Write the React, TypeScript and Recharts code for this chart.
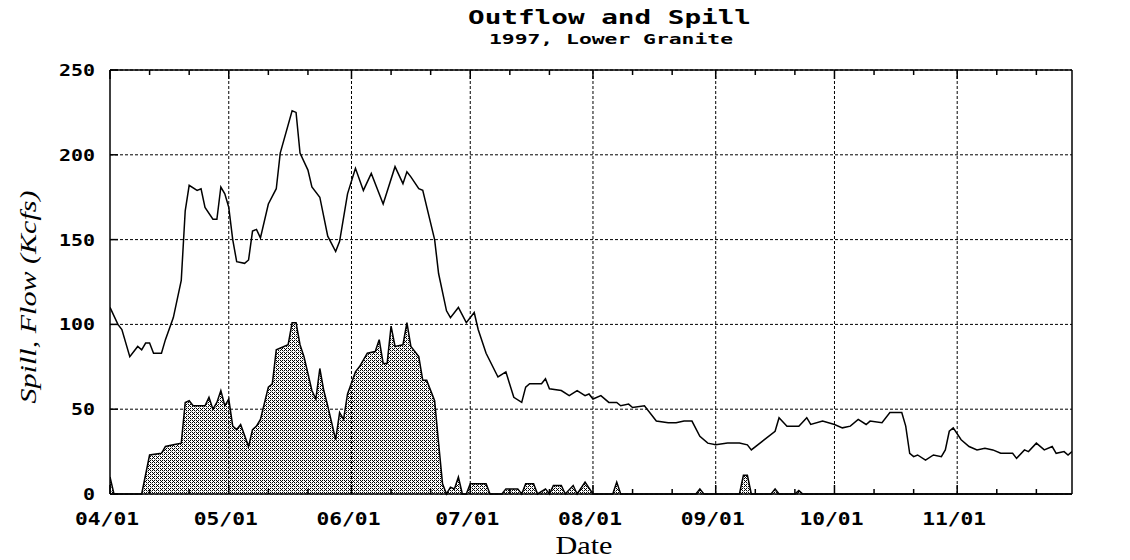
import React from 'react';
import { ComposedChart, Area, Line, XAxis, YAxis, CartesianGrid, ReferenceLine } from 'recharts';

// day 0 = 04/01/1997
const monthDays = [0, 30, 61, 91, 122, 153, 183, 214];
const monthLabels = ['04/01', '05/01', '06/01', '07/01', '08/01', '09/01', '10/01', '11/01'];
const minorDays = [10, 20, 40, 50, 71, 81, 101, 111, 132, 142, 163, 173, 193, 203, 224, 234];
const yTicks = [0, 50, 100, 150, 200, 250];

// outflow, Kcfs  [day, value]
const outflow: [number, number][] = [
  [0, 110], [2, 100], [3, 97], [5, 81], [7, 87], [8, 85], [9, 89], [10, 89], [11, 83], [13, 83],
  [14, 91], [16, 104], [18, 126], [19, 167], [20, 182], [22, 179], [23, 180], [24, 169], [26, 162], [27, 162],
  [28, 181], [29, 177], [30, 169], [31, 150], [32, 137], [34, 136], [35, 138], [36, 155], [37, 156], [38, 151],
  [40, 171], [42, 180], [43, 201], [46, 226], [47, 225], [48, 201], [50, 191], [51, 181], [53, 175], [55, 152],
  [57, 143], [58, 149], [60, 177], [62, 192], [64, 179], [66, 189], [69, 171], [72, 193], [74, 183], [75, 190],
  [76, 187], [78, 180], [79, 179], [82, 150], [83, 130], [85, 108], [86, 104], [88, 110], [90, 101], [92, 107],
  [93, 97], [95, 83], [98, 69], [100, 72], [102, 57], [104, 54], [105, 63], [106, 65], [109, 65], [110, 68],
  [111, 62], [114, 61], [116, 58], [118, 61], [120, 58], [121, 59], [122, 56], [124, 58], [126, 54], [128, 54],
  [129, 52], [131, 53], [132, 51], [135, 52], [138, 43], [141, 42], [143, 42], [145, 43], [147, 43], [149, 34],
  [151, 30], [153, 29], [156, 30], [159, 30], [161, 29], [162, 26], [168, 37], [169, 45], [171, 40], [174, 40],
  [176, 45], [177, 41], [180, 43], [183, 41], [185, 39], [187, 40], [189, 44], [191, 41], [192, 43], [195, 42],
  [197, 48], [200, 48], [201, 40], [202, 24], [203, 22], [204, 23], [206, 20], [208, 23], [210, 22], [211, 26],
  [212, 37], [213, 39], [215, 32], [217, 28], [219, 26], [221, 27], [223, 26], [225, 24], [228, 24], [229, 21],
  [231, 26], [232, 25], [234, 30], [236, 26], [238, 28], [239, 24], [241, 25], [242, 23], [243, 25],
];

// spill, Kcfs  [day, value]
const spill: [number, number][] = [
  [0, 10], [1, 0], [8, 0], [10, 23], [13, 24], [14, 28], [16, 29], [18, 30], [19, 54], [20, 55],
  [21, 52], [24, 52], [25, 57], [26, 50], [27, 54], [28, 61], [29, 52], [30, 56], [31, 40], [32, 38],
  [33, 41], [35, 28], [36, 38], [37, 40], [38, 44], [40, 63], [41, 65], [42, 85], [45, 88], [46, 101],
  [47, 101], [48, 88], [49, 81], [51, 61], [52, 56], [53, 74], [54, 61], [55, 52], [57, 32], [58, 48],
  [59, 44], [60, 59], [62, 72], [63, 75], [65, 83], [67, 84], [68, 91], [69, 77], [70, 77], [71, 99],
  [72, 87], [74, 88], [75, 101], [76, 87], [78, 81], [79, 67], [80, 67], [82, 55], [83, 30], [84, 6],
  [85, 0], [86, 4], [87, 3], [88, 10], [89, 0], [90, 0], [91, 6], [95, 6], [96, 0], [99, 0],
  [100, 3], [103, 3], [104, 0], [105, 6], [107, 6], [108, 0], [110, 3], [111, 0], [112, 5], [114, 5],
  [115, 0], [117, 5], [118, 0], [120, 7], [122, 0], [127, 0], [128, 7], [129, 0], [148, 0], [149, 3],
  [150, 0], [159, 0], [160, 11], [161, 11], [162, 0], [167, 0], [168, 3], [169, 0], [173, 0], [174, 2],
  [175, 0], [243, 0],
];

const flowData = outflow.map(([day, v]) => ({ day, flow: v }));
const spillData = spill.map(([day, v]) => ({ day, spill: v }));
const allXTicks = [...monthDays, ...minorDays].sort((a, b) => a - b);

const monoFont = '"DejaVu Sans Mono", monospace';

const BottomTick = (props: any) => {
  const { x, y, payload } = props;
  const i = monthDays.indexOf(payload.value);
  return (
    <g>
      <line x1={x} x2={x} y1={y} y2={y - (i >= 0 ? 9 : 5)} stroke="#000" strokeWidth={1.5} />
      {i >= 0 && (
        <text x={x - 3} y={y + 31} textAnchor="middle" fontFamily={monoFont} fontWeight="bold"
          fontSize={17} textLength={64} lengthAdjust="spacingAndGlyphs" fill="#000">
          {monthLabels[i]}
        </text>
      )}
    </g>
  );
};

const TopTick = (props: any) => {
  const { x, y, payload } = props;
  const major = monthDays.includes(payload.value);
  return <line x1={x} x2={x} y1={y} y2={y + (major ? 9 : 5)} stroke="#000" strokeWidth={1.5} />;
};

const LeftTick = (props: any) => {
  const { x, y, payload } = props;
  const s = String(payload.value);
  return (
    <g>
      <line x1={x} x2={x + 8} y1={y} y2={y} stroke="#000" strokeWidth={1.5} />
      <text x={x - 15} y={y + 6} textAnchor="end" fontFamily={monoFont} fontWeight="bold"
        fontSize={16} textLength={s.length * 12} lengthAdjust="spacingAndGlyphs" fill="#000">{s}</text>
    </g>
  );
};

const RightTick = (props: any) => {
  const { x, y, payload } = props;
  const s = String(payload.value);
  return (
    <g>
      <line x1={x - 8} x2={x} y1={y} y2={y} stroke="#000" strokeWidth={1.5} />
      <text x={x + 12} y={y + 6} textAnchor="start" fontFamily={monoFont} fontWeight="bold"
        fontSize={16} textLength={s.length * 11.5} lengthAdjust="spacingAndGlyphs" fill="#000">{s}</text>
    </g>
  );
};

export default function App() {
  return (
    <div style={{ position: 'absolute', left: 0, top: 0, width: 1130, height: 560, background: '#fff' }}>
      <ComposedChart width={1130} height={560} margin={{ top: 0, right: 0, bottom: 0, left: 0 }}>
        <defs>
          <pattern id="hatch" width="4" height="4" patternUnits="userSpaceOnUse">
            <rect width="4" height="4" fill="#fff" />
            <rect x="0" y="0" width="1" height="1" fill="#000" />
            <rect x="2" y="0" width="1" height="1" fill="#000" />
            <rect x="1" y="1" width="1" height="1" fill="#000" />
            <rect x="0" y="2" width="1" height="1" fill="#000" />
            <rect x="2" y="2" width="1" height="1" fill="#000" />
            <rect x="3" y="3" width="1" height="1" fill="#888" />
          </pattern>
        </defs>
        <XAxis xAxisId="bottom" type="number" dataKey="day" domain={[0, 243]} allowDataOverflow
          ticks={allXTicks} interval={0} height={66} tickSize={0} tickMargin={0}
          axisLine={{ stroke: '#000', strokeWidth: 1.5 }} tickLine={false} tick={<BottomTick />} />
        <XAxis xAxisId="top" orientation="top" type="number" dataKey="day" domain={[0, 243]} allowDataOverflow
          ticks={allXTicks} interval={0} height={70} tickSize={0} tickMargin={0}
          axisLine={{ stroke: '#000', strokeWidth: 1.5 }} tickLine={false} tick={<TopTick />} />
        <YAxis yAxisId="left" type="number" domain={[0, 250]} ticks={yTicks} interval={0} width={110}
          tickSize={0} tickMargin={0} axisLine={{ stroke: '#000', strokeWidth: 1.5 }} tickLine={false}
          tick={<LeftTick />} />
        <YAxis yAxisId="right" orientation="right" type="number" domain={[0, 250]} ticks={yTicks} interval={0}
          width={58} tickSize={0} tickMargin={0} axisLine={{ stroke: '#000', strokeWidth: 1.5 }} tickLine={false}
          tick={<RightTick />} />
        <Area xAxisId="bottom" yAxisId="left" data={spillData} dataKey="spill" type="linear"
          stroke="#000" strokeWidth={1.5} fill="url(#hatch)" fillOpacity={1} dot={false} activeDot={false}
          isAnimationActive={false} />
        <CartesianGrid xAxisId="bottom" yAxisId="left" vertical={false} stroke="#000" strokeDasharray="3 2" />
        {monthDays.slice(1).map((d) => (
          <ReferenceLine key={d} xAxisId="bottom" yAxisId="left" x={d} stroke="#000" strokeDasharray="3 2" />
        ))}
        <Line xAxisId="bottom" yAxisId="left" data={flowData} dataKey="flow" type="linear"
          stroke="#000" strokeWidth={1.5} dot={false} activeDot={false} isAnimationActive={false} />
      </ComposedChart>
      <svg width={1130} height={560} style={{ position: 'absolute', left: 0, top: 0, pointerEvents: 'none' }}>
        <text x={468} y={24} fontFamily={monoFont} fontWeight="bold" fontSize={19}
          textLength={283} lengthAdjust="spacingAndGlyphs">Outflow and Spill</text>
        <text x={489} y={44} fontFamily={monoFont} fontWeight="bold" fontSize={14}
          textLength={244} lengthAdjust="spacingAndGlyphs">1997, Lower Granite</text>
        <text x={584} y={554} textAnchor="middle" fontFamily='"Liberation Serif", serif' fontSize={26}
          textLength={57} lengthAdjust="spacingAndGlyphs">Date</text>
        <text x={36} y={297} textAnchor="middle" transform="rotate(-90, 36, 297)"
          fontFamily='"Liberation Serif", serif' fontStyle="italic" fontSize={24}
          textLength={213} lengthAdjust="spacingAndGlyphs">Spill, Flow (Kcfs)</text>
      </svg>
    </div>
  );
}
